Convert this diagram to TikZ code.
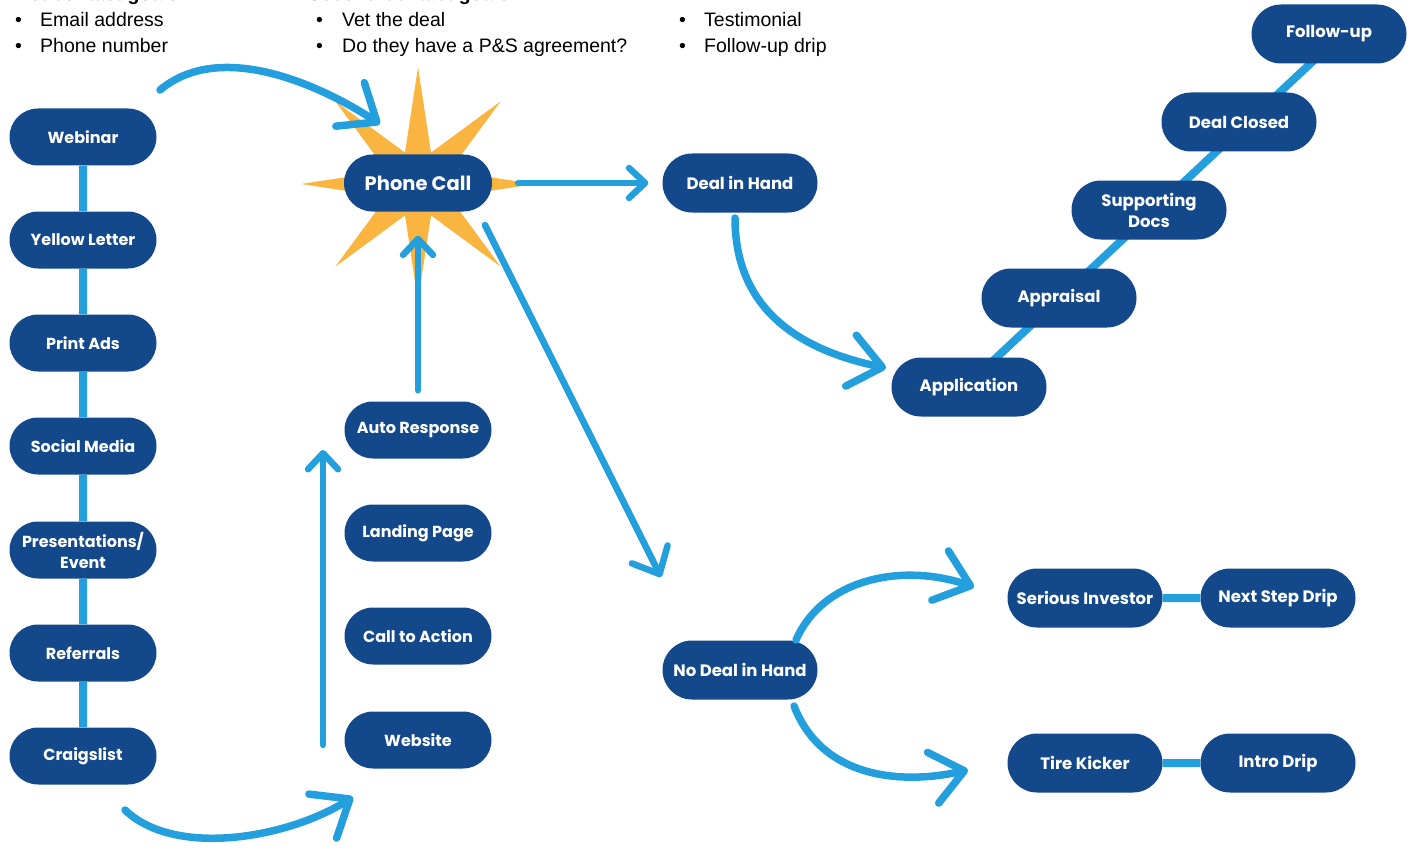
\documentclass[tikz,border=0pt]{standalone}
\usepackage{fontspec}
\setmainfont{Liberation Sans}
\newfontfamily\popfont{Poppins}
\usetikzlibrary{shapes.misc,arrows.meta,backgrounds}
\definecolor{navy}{HTML}{13498B}
\definecolor{sky}{HTML}{229FDC}
\definecolor{burst}{HTML}{F9B540}
\tikzset{
  pill/.style={rounded rectangle, fill=navy, text=white, minimum width=147pt,
    minimum height=57pt, inner sep=0pt, align=center,
    font=\popfont\bfseries\fontsize{16}{21}\selectfont},
  widepill/.style={pill, minimum width=155pt, minimum height=59pt,
    font=\popfont\bfseries\fontsize{16.5}{21}\selectfont},
  link/.style={draw=sky, line width=8pt},
  arr/.style={draw=sky, line width=7.5pt, line cap=round,
    -{Straight Barb[length=32pt,width=52pt,round]}},
  sarr/.style={draw=sky, line width=6.5pt, line cap=round,
    -{Straight Barb[length=16pt,width=30pt,round]}},
  marr/.style={draw=sky, line width=6.5pt, line cap=round,
    -{Straight Barb[length=22pt,width=40pt,round]}},
  note/.style={anchor=base west, inner sep=0pt, font=\fontsize{19.5}{23}\selectfont},
  head/.style={note, font=\bfseries\fontsize{19.5}{23}\selectfont},
}
\begin{document}
\begin{tikzpicture}[x=1pt,y=-1pt]
\useasboundingbox (0,0) rectangle (1411,856);

% goal lists along the top edge
\node[head] (h1) at (5,1) {First contact goals:};
\node[note] (b1a) at (15,27) {•};  \node[note] (t1a) at (40,27) {Email address};
\node[note] (b1b) at (15,53) {•};  \node[note] (t1b) at (40,53) {Phone number};
\node[head] (h2) at (308,1) {Second contact goals:};
\node[note] (b2a) at (316,27) {•}; \node[note] (t2a) at (342,27) {Vet the deal};
\node[note] (b2b) at (316,53) {•}; \node[note] (t2b) at (342,53) {Do they have a P\&S agreement?};
\node[note] (b3a) at (679,27) {•}; \node[note] (t3a) at (704,27) {Testimonial};
\node[note] (b3b) at (679,53) {•}; \node[note] (t3b) at (704,53) {Follow-up drip};

% eight-point burst behind the phone call
\fill[burst] ([shift={(418,184)}]0:117)
  \foreach \a/\r in {22.5/34,45/117,67.5/34,90/117,112.5/34,135/117,157.5/34,180/117,
                     202.5/34,225/117,247.5/34,270/117,292.5/34,315/117,337.5/34}
  { -- ([shift={(418,184)}]\a:\r) } -- cycle;

% lead sources
\node[pill] (web)   at (83,137) {Webinar};
\node[pill] (yl)    at (83,240) {Yellow Letter};
\node[pill] (pads)  at (83,343) {Print Ads};
\node[pill] (smed)  at (83,446) {Social Media};
\node[pill] (pres)  at (83,550) {Presentations/\\Event};
\node[pill] (refs)  at (83,653) {Referrals};
\node[pill] (craig) at (83,756) {Craigslist};
\draw[link] (web) -- (yl);
\draw[link] (yl) -- (pads);
\draw[link] (pads) -- (smed);
\draw[link] (smed) -- (pres);
\draw[link] (pres) -- (refs);
\draw[link] (refs) -- (craig);

% online funnel and phone call
\node[pill, minimum width=148pt, font=\popfont\bfseries\fontsize{19.5}{23}\selectfont] (pc) at (418,183) {Phone Call};
\node[pill] (auto) at (418,430) {Auto Response};
\node[pill] (land) at (418,533) {Landing Page};
\node[pill] (cta)  at (418,636) {Call to Action};
\node[pill] (site) at (418,740) {Website};

% deal branches
\node[widepill] (dih)  at (740,183) {Deal in Hand};
\node[widepill] (ndih) at (740,670) {No Deal in Hand};

% closing staircase, one rail running behind all five steps
\node[widepill] (app)  at (969,387)  {Application};
\node[widepill] (appr) at (1059,298) {Appraisal};
\node[widepill] (docs) at (1149,210) {Supporting\\Docs};
\node[widepill] (dc)   at (1239,122) {Deal Closed};
\node[widepill] (fu)   at (1329,34)  {Follow-up};
\begin{pgfonlayer}{background}
  \draw[link] ([shift={(-4,0)}]app.center) -- ([shift={(13,0)}]fu.center);
\end{pgfonlayer}

% no-deal outcomes
\node[widepill] (ser)  at (1085,598) {Serious Investor};
\node[widepill] (nsd)  at (1278,598) {Next Step Drip};
\node[widepill] (tk)   at (1085,763) {Tire Kicker};
\node[widepill] (intro) at (1278,763) {Intro Drip};
\draw[link] (ser) -- (nsd);
\draw[link] (tk) -- (intro);

% arrows
\coordinate (topS) at (160,90);
\coordinate (topE) at (380,124);
\draw[arr] (topS) .. controls (222,38) and (325,88) .. (topE);

\coordinate (botS) at (125,810);
\coordinate (botE) at (353,797);
\draw[arr] (botS) .. controls (175,858) and (288,838) .. (botE);

\coordinate (upS) at (323,745);
\coordinate (upE) at (323,450);
\draw[sarr] (upS) -- (upE);

\draw[sarr] ([shift={(0,-11)}]auto.north) -- ([shift={(0,24)}]pc.south);
\draw[sarr] ([shift={(26,0)}]pc.east) -- ([shift={(-14,0)}]dih.west);

\coordinate (diagS) at (485,225);
\coordinate (diagE) at (661,577);
\draw[marr] (diagS) -- (diagE);

\coordinate (dealS) at (735,218);
\coordinate (dealE) at (886,368);
\draw[arr] (dealS) .. controls (735,310) and (800,350) .. (dealE);

\coordinate (serS) at (796,640);
\coordinate (serE) at (974,587);
\draw[arr] (serS) .. controls (822,580) and (900,562) .. (serE);

\coordinate (tkS) at (794,706);
\coordinate (tkE) at (968,770);
\draw[arr] (tkS) .. controls (822,778) and (900,785) .. (tkE);
\end{tikzpicture}
\end{document}
